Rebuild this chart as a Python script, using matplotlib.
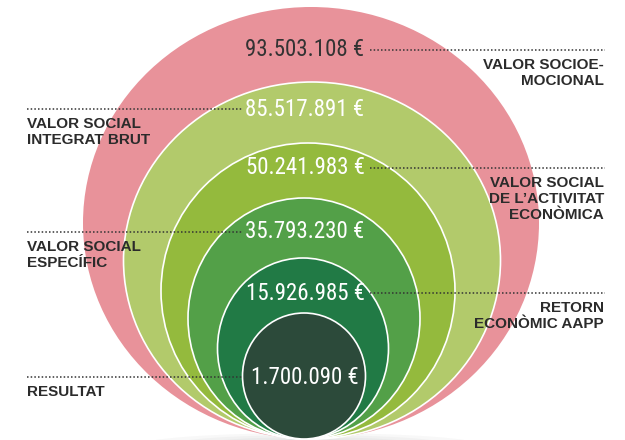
import matplotlib.pyplot as plt
from matplotlib.patches import Ellipse

# dades
values = [93503108, 85517891, 50241983, 35793230, 15926985, 1700090]
labels = ['VALOR SOCIOE-\nMOCIONAL', 'VALOR SOCIAL\nINTEGRAT BRUT',
          'VALOR SOCIAL\nDE L\u2019ACTIVITAT\nECON\u00d2MICA', 'VALOR SOCIAL\nESPEC\u00cdFIC',
          'RETORN\nECON\u00d2MIC AAPP', 'RESULTAT']
sides = ['right', 'left', 'right', 'left', 'right', 'left']

# disseny (pixels)
colors = ['#e8929a', '#b2ca6b', '#94ba3d', '#53a048', '#217a45', '#2c4a3a']
text_colors = ['#333333', 'white', 'white', 'white', 'white', 'white']
cxs = [311, 312, 308, 304, 303, 304]
tops = [7, 82, 143, 198, 258, 313]
widths = [456, 377, 294, 232, 171, 123]
text_y = [50, 109, 168, 232, 293, 377]
bottom = 439

num_font = ['Roboto Condensed', 'Barlow Semi Condensed', 'Archivo Narrow',
            'Sofia Sans Semi Condensed', 'Liberation Sans', 'DejaVu Sans']
lab_font = ['Liberation Sans', 'DejaVu Sans']

fig = plt.figure(figsize=(6.25, 4.4), dpi=100)
ax = fig.add_axes([0, 0, 1, 1])
ax.set_xlim(0, 625)
ax.set_ylim(440, 0)
ax.axis('off')

# ombra a sota
for i in range(4):
    ax.add_patch(Ellipse((310, 445), 340 - i * 60, 24 - i * 4, color='#7a7a7a', alpha=0.05, lw=0))

for i in range(len(values)):
    h = bottom - tops[i]
    ax.add_patch(Ellipse((cxs[i], tops[i] + h / 2), widths[i], h,
                         facecolor=colors[i], edgecolor='white' if i > 0 else 'none',
                         lw=1.2, zorder=2 + i))

for i, v in enumerate(values):
    y = text_y[i]
    ax.text(305, y, '{:,}'.format(v).replace(',', '.') + ' \u20ac',
            ha='center', va='center', color=text_colors[i], fontsize=16.5,
            family=num_font, zorder=10)
    if sides[i] == 'right':
        ax.plot([370, 605], [y, y], color='#333333', lw=1.1, ls=(0, (1, 1.4)), zorder=9)
        ax.text(604, y + 8, labels[i], ha='right', va='top', fontsize=11,
                fontweight='bold', color='#2b2b2b', family=lab_font,
                linespacing=1.2, zorder=11)
    else:
        ax.plot([27, 242], [y, y], color='#333333', lw=1.1, ls=(0, (1, 1.4)), zorder=9)
        ax.text(27, y + 8, labels[i], ha='left', va='top', fontsize=11,
                fontweight='bold', color='#2b2b2b', family=lab_font,
                linespacing=1.2, zorder=11)

fig.savefig('out.png', dpi=100)
